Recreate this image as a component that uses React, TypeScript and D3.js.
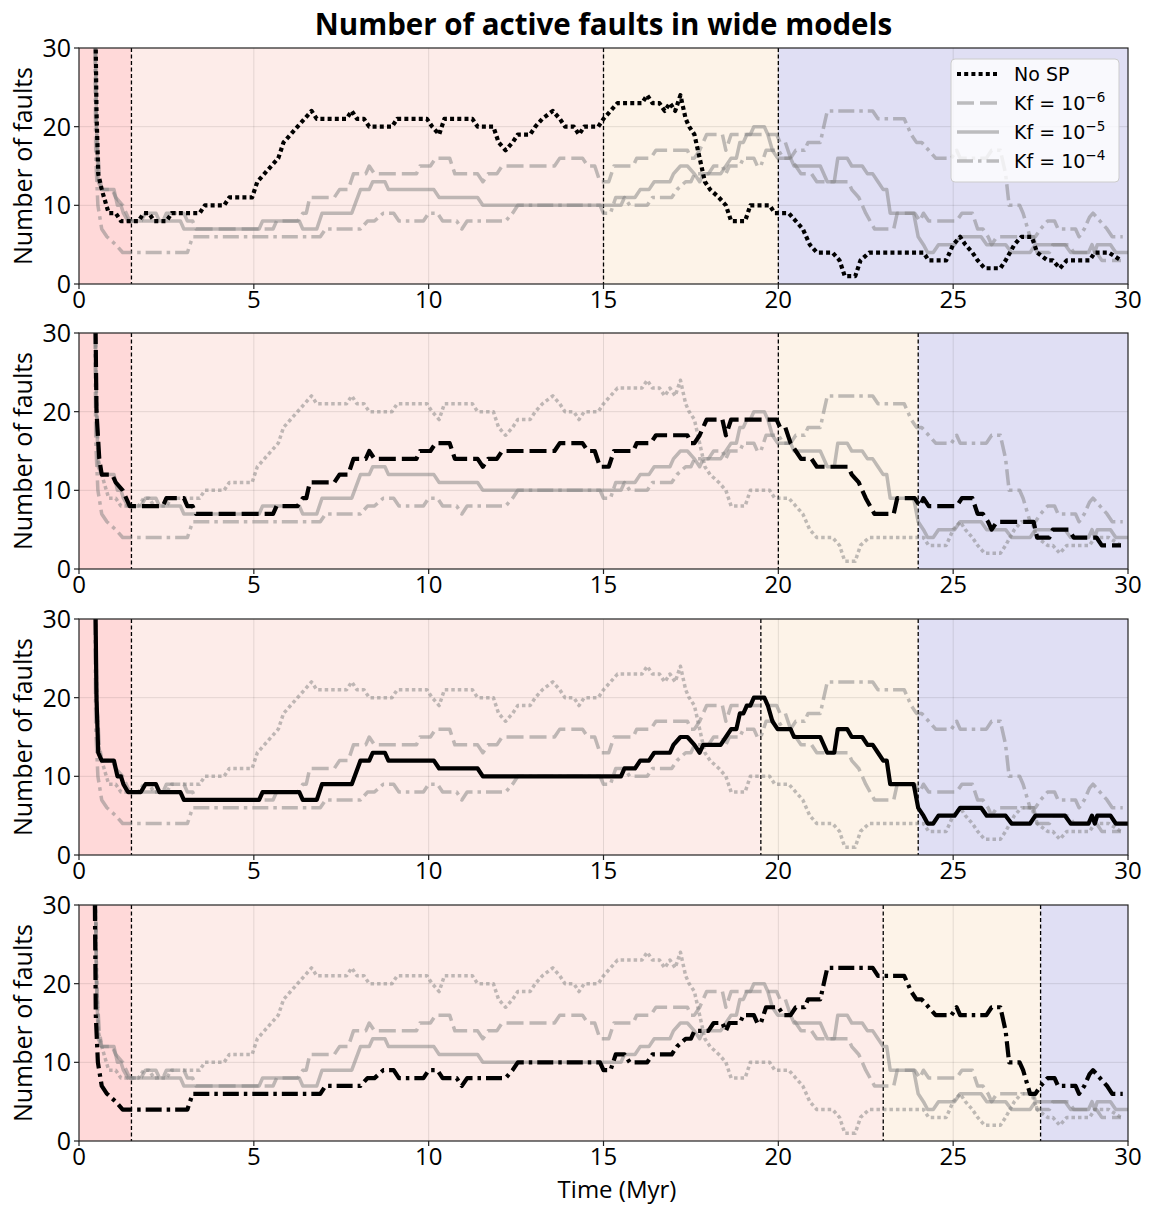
import React from "react";
import * as d3 from "d3";

// Number of active faults through time, one series per erosion setting.
// Each entry is [time (Myr), number of faults] at the vertices of the record.
const noSP: [number, number][] = [
  [0.4, 60], [0.5, 22], [0.55, 14], [0.65, 12], [0.75, 10.5], [0.85, 9], [1.05, 9], [1.2, 8], [1.7, 8],
  [1.85, 9], [2.0, 9], [2.15, 8], [2.5, 8], [2.65, 9], [3.45, 9], [3.6, 10], [4.15, 10], [4.3, 11],
  [4.95, 11], [5.1, 13], [5.3, 14], [5.5, 15], [5.7, 16], [5.85, 18], [6.05, 19], [6.25, 20], [6.45, 21],
  [6.65, 22], [6.8, 21], [7.65, 21], [7.8, 22], [7.95, 21], [8.15, 21], [8.3, 20], [8.95, 20], [9.1, 21],
  [9.95, 21], [10.1, 20], [10.3, 19], [10.45, 21], [11.25, 21], [11.4, 20], [11.85, 20], [12.0, 18],
  [12.2, 17], [12.4, 18], [12.55, 19], [12.9, 19], [13.05, 20], [13.25, 21], [13.55, 22], [13.75, 21],
  [13.9, 20], [14.15, 20], [14.3, 19], [14.45, 20], [14.85, 20], [15.0, 21], [15.2, 22], [15.4, 23],
  [16.1, 23], [16.25, 24], [16.4, 23], [16.6, 23], [16.75, 22], [16.9, 23], [17.05, 22], [17.2, 24],
  [17.35, 21], [17.45, 20], [17.6, 19], [17.7, 17], [17.8, 15], [17.9, 13], [18.05, 12], [18.3, 11],
  [18.5, 10], [18.65, 8], [19.05, 8], [19.2, 10], [19.75, 10], [19.9, 9], [20.3, 9], [20.5, 8], [20.7, 7],
  [20.9, 5], [21.1, 4], [21.55, 4], [21.75, 3], [21.9, 1], [22.2, 1], [22.35, 3], [22.6, 4], [24.15, 4],
  [24.3, 3], [24.8, 3], [25.0, 5], [25.2, 6], [25.35, 5], [25.55, 4], [25.7, 3], [25.9, 2], [26.35, 2],
  [26.5, 3], [26.75, 5], [26.95, 6], [27.25, 6], [27.4, 4], [27.7, 3], [27.85, 3], [28.05, 2], [28.25, 3],
  [28.9, 3], [29.05, 4], [29.45, 4], [29.8, 3],
];

const kf6: [number, number][] = [
  [0.4, 60], [0.5, 20], [0.58, 14], [0.65, 12], [0.95, 12], [1.05, 11], [1.25, 10], [1.45, 8], [2.4, 8],
  [2.5, 9], [3.0, 9], [3.1, 8], [3.25, 8], [3.35, 7], [5.55, 7], [5.65, 8], [6.25, 8], [6.4, 9], [6.5, 9],
  [6.6, 11], [7.3, 11], [7.45, 12], [7.7, 12], [7.85, 14], [8.2, 14], [8.3, 15], [8.45, 14], [9.65, 14],
  [9.75, 15], [10.05, 15], [10.2, 16], [10.6, 16], [10.75, 14], [11.4, 14], [11.55, 13], [11.7, 14],
  [11.95, 14], [12.1, 15], [13.6, 15], [13.75, 16], [14.4, 16], [14.55, 15], [14.75, 15], [14.9, 13],
  [15.15, 13], [15.3, 15], [15.85, 15], [15.95, 16], [16.35, 16], [16.5, 17], [17.4, 17], [17.5, 16],
  [17.6, 16], [17.75, 17], [17.95, 19], [18.4, 19], [18.5, 17], [18.65, 19], [19.95, 19], [20.05, 18],
  [20.2, 18], [20.35, 16], [20.5, 15], [20.65, 14], [20.95, 14], [21.1, 13], [22.0, 13], [22.1, 12],
  [22.3, 11], [22.5, 9], [22.75, 7], [23.3, 7], [23.4, 9], [23.9, 9], [24.05, 8], [24.15, 9], [24.3, 8],
  [25.1, 8], [25.25, 9], [25.55, 9], [25.7, 7], [25.85, 7], [26.0, 6], [26.1, 5], [26.25, 6], [27.3, 6],
  [27.4, 4], [27.75, 4], [27.85, 5], [28.3, 5], [28.45, 4], [29.1, 4], [29.25, 3], [29.8, 3],
];

const kf5: [number, number][] = [
  [0.4, 60], [0.5, 20], [0.55, 13], [0.65, 12], [1.0, 12], [1.1, 10], [1.2, 10], [1.27, 9], [1.4, 8],
  [1.77, 8], [1.9, 9], [2.2, 9], [2.3, 8], [2.9, 8], [3.0, 7], [5.15, 7], [5.25, 8], [6.3, 8], [6.4, 7],
  [6.8, 7], [6.95, 9], [7.8, 9], [8.05, 12], [8.3, 12], [8.4, 13], [8.75, 13], [8.85, 12], [10.15, 12],
  [10.3, 11], [11.4, 11], [11.55, 10], [15.5, 10], [15.6, 11], [15.9, 11], [16.05, 12], [16.3, 12],
  [16.45, 13], [16.9, 13], [17.0, 14], [17.2, 15], [17.4, 15], [17.6, 14], [17.75, 13], [17.85, 14],
  [18.35, 14], [18.5, 15], [18.65, 16], [18.8, 16], [18.9, 18], [19.0, 18], [19.1, 19], [19.2, 19],
  [19.3, 20], [19.6, 20], [19.7, 19], [19.83, 17], [19.98, 16], [20.35, 16], [20.45, 15], [21.2, 15],
  [21.4, 13], [21.6, 13], [21.7, 16], [21.97, 16], [22.1, 15], [22.4, 15], [22.55, 14], [22.7, 14],
  [22.85, 13], [23.0, 12], [23.1, 12], [23.2, 9], [23.87, 9], [24.0, 6], [24.15, 5], [24.27, 4],
  [24.43, 4], [24.58, 5], [25.04, 5], [25.2, 6], [25.8, 6], [25.96, 5], [26.5, 5], [26.67, 4], [27.2, 4],
  [27.35, 5], [28.2, 5], [28.36, 4], [28.87, 4], [28.97, 5], [29.05, 4], [29.12, 5], [29.5, 5],
  [29.65, 4], [30.0, 4],
];

const kf4: [number, number][] = [
  [0.4, 60], [0.48, 16], [0.54, 10], [0.65, 7], [0.8, 6], [1.05, 5], [1.25, 4], [3.1, 4], [3.25, 6],
  [6.9, 6], [7.05, 7], [8.05, 7], [8.25, 8], [8.45, 8], [8.7, 9], [9.0, 9], [9.15, 8], [9.85, 8],
  [10.0, 9], [10.25, 9], [10.4, 8], [10.8, 8], [10.95, 7], [11.1, 8], [12.2, 8], [12.4, 9], [12.55, 10],
  [14.9, 10], [15.0, 9], [15.2, 9], [15.35, 11], [15.6, 11], [15.75, 10], [16.25, 10], [16.4, 11],
  [16.95, 11], [17.1, 12], [17.35, 13], [17.5, 13], [17.6, 14], [18.0, 14], [18.15, 15], [18.4, 15],
  [18.5, 14], [18.6, 15], [18.9, 15], [19.0, 16], [19.3, 16], [19.4, 15], [19.5, 15], [19.65, 17],
  [20.0, 17], [20.15, 16], [20.35, 16], [20.5, 17], [20.75, 17], [20.85, 18], [21.2, 18], [21.4, 22],
  [22.7, 22], [22.85, 21], [23.6, 21], [23.8, 19], [23.95, 18], [24.1, 18], [24.3, 17], [24.5, 16],
  [24.95, 16], [25.1, 17], [25.2, 16], [25.95, 16], [26.1, 17], [26.35, 17], [26.5, 14], [26.6, 10],
  [26.9, 10], [27.0, 9], [27.2, 6], [27.35, 6], [27.5, 7], [27.7, 8], [27.9, 8], [28.0, 7], [28.5, 7],
  [28.6, 6], [28.75, 7], [28.9, 8.5], [29.0, 9], [29.2, 8], [29.4, 7], [29.55, 6], [29.85, 6],
];

const seriesData = [noSP, kf6, kf5, kf4];
const seriesDash = ["dot", "dash", "solid", "dashdot"];
const legendExponents = ["−6", "−5", "−4"];

// Phase boundaries (Myr) for each model panel.
const phaseBreaks: number[][] = [
  [1.5, 15, 20],
  [1.5, 20, 24],
  [1.5, 19.5, 24],
  [1.5, 23, 27.5],
];
const phaseColors = ["#ffd9d9", "#fdece9", "#fdf3e8", "#e0dff4"];

const xTicks = [0, 5, 10, 15, 20, 25, 30];
const yTicks = [0, 10, 20, 30];

const W = 1152;
const H = 1207;
const LEFT = 79;
const RIGHT = 1128;
const PANEL_TOPS = [48, 333, 619, 905];
const PANEL_H = 236;

const FONT = "'Open Sans', 'Noto Sans', sans-serif";
const LABEL_SIZE = 25;

function dashFor(kind: string, black: boolean): string | undefined {
  if (kind === "dot") return black ? "4,3.2" : "3.5,3";
  if (kind === "dash") return "17,6";
  if (kind === "dashdot") return "16,5,3.5,5";
  return undefined;
}

export default function App() {
  const x = d3.scaleLinear().domain([0, 30]).range([LEFT, RIGHT]);

  return (
    <svg
      width={W}
      height={H}
      style={{ display: "block", background: "#fff", position: "absolute", left: 0, top: 0 }}
    >
      <text
        x={(LEFT + RIGHT) / 2}
        y={35}
        textAnchor="middle"
        fontFamily={FONT}
        fontWeight={700}
        fontSize={29.5}
        fill="#000"
      >
        Number of active faults in wide models
      </text>
      {PANEL_TOPS.map((top, pi) => {
        const bottom = top + PANEL_H;
        const y = d3.scaleLinear().domain([0, 30]).range([bottom, top]);
        const line = d3
          .line<[number, number]>()
          .x((d) => x(d[0]))
          .y((d) => y(d[1]));
        const edges = [0, ...phaseBreaks[pi], 30];
        const clipId = `clip-${pi}`;
        const order = [0, 1, 2, 3].filter((i) => i !== pi);
        return (
          <g key={pi}>
            <defs>
              <clipPath id={clipId}>
                <rect x={LEFT} y={top} width={RIGHT - LEFT} height={PANEL_H} />
              </clipPath>
            </defs>
            {edges.slice(0, -1).map((e, k) => (
              <rect
                key={k}
                x={x(e)}
                y={top}
                width={x(edges[k + 1]) - x(e)}
                height={PANEL_H}
                fill={phaseColors[k]}
              />
            ))}
            {xTicks.slice(1, -1).map((t) => (
              <line key={`gx${t}`} x1={x(t)} x2={x(t)} y1={top} y2={bottom} stroke="#000" strokeOpacity={0.1} strokeWidth={1} />
            ))}
            {yTicks.slice(1, -1).map((t) => (
              <line key={`gy${t}`} x1={LEFT} x2={RIGHT} y1={y(t)} y2={y(t)} stroke="#000" strokeOpacity={0.1} strokeWidth={1} />
            ))}
            {phaseBreaks[pi].map((b) => (
              <line key={`b${b}`} x1={x(b)} x2={x(b)} y1={top} y2={bottom} stroke="#000" strokeWidth={1.3} strokeDasharray="4,2.5" />
            ))}
            <g clipPath={`url(#${clipId})`}>
              {order.map((i) => (
                <path
                  key={i}
                  d={line(seriesData[i]) || ""}
                  fill="none"
                  stroke="#808080"
                  strokeOpacity={0.5}
                  strokeWidth={3.5}
                  strokeDasharray={dashFor(seriesDash[i], false)}
                  strokeLinejoin="round"
                />
              ))}
              <path
                d={line(seriesData[pi]) || ""}
                fill="none"
                stroke="#000"
                strokeWidth={4.2}
                strokeDasharray={dashFor(seriesDash[pi], true)}
                strokeLinejoin="round"
              />
            </g>
            <rect x={LEFT} y={top} width={RIGHT - LEFT} height={PANEL_H} fill="none" stroke="#222" strokeWidth={1.2} />
            {xTicks.map((t) => (
              <g key={`xt${t}`}>
                <line x1={x(t)} x2={x(t)} y1={bottom} y2={bottom + 5} stroke="#222" strokeWidth={1.2} />
                <text x={x(t)} y={bottom + 24} textAnchor="middle" fontFamily={FONT} fontSize={24} fill="#000">
                  {t}
                </text>
              </g>
            ))}
            {yTicks.map((t) => (
              <g key={`yt${t}`}>
                <line x1={LEFT - 5} x2={LEFT} y1={y(t)} y2={y(t)} stroke="#222" strokeWidth={1.2} />
                <text x={LEFT - 8} y={y(t) + 9} textAnchor="end" fontFamily={FONT} fontSize={LABEL_SIZE} fill="#000">
                  {t}
                </text>
              </g>
            ))}
            <text
              transform={`translate(${32},${top + PANEL_H / 2}) rotate(-90)`}
              textAnchor="middle"
              fontFamily={FONT}
              fontSize={LABEL_SIZE}
              fill="#000"
            >
              Number of faults
            </text>
            {pi === 0 && (
              <g>
                <rect x={951} y={59} width={168} height={123} rx={4} fill="#fff" fillOpacity={0.8} stroke="#ccc" strokeWidth={1} />
                {[0, 1, 2, 3].map((i) => {
                  const ly = 74 + i * 29;
                  const black = i === 0;
                  return (
                    <g key={`lg${i}`}>
                      <line
                        x1={957}
                        x2={999}
                        y1={ly}
                        y2={ly}
                        stroke={black ? "#000" : "#808080"}
                        strokeOpacity={black ? 1 : 0.5}
                        strokeWidth={black ? 4.2 : 3.5}
                        strokeDasharray={dashFor(seriesDash[i], black)}
                      />
                      <text x={1014} y={ly + 7} fontFamily="'DejaVu Sans', sans-serif" fontSize={19} fill="#000">
                        {i === 0 ? (
                          "No SP"
                        ) : (
                          <>
                            <tspan>Kf = 10</tspan>
                            <tspan dy={-8} fontSize={13.5}>
                              {legendExponents[i - 1]}
                            </tspan>
                          </>
                        )}
                      </text>
                    </g>
                  );
                })}
              </g>
            )}
          </g>
        );
      })}
      <text x={617} y={1198} textAnchor="middle" fontFamily={FONT} fontSize={24} fill="#000">
        Time (Myr)
      </text>
    </svg>
  );
}
